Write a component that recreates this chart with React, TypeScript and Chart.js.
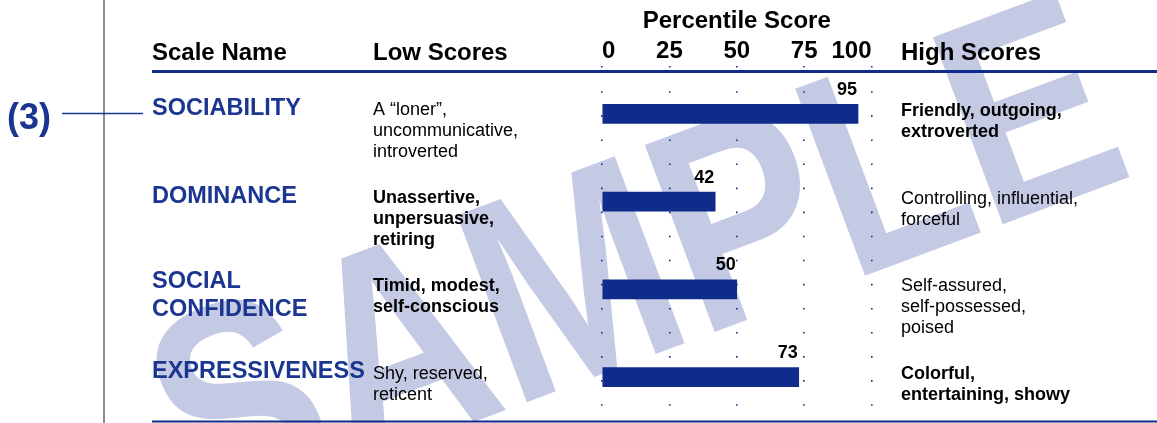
import React, { useEffect, useRef } from "react";
import { Chart, registerables } from "chart.js";

Chart.register(...registerables);

// ---------------- data ----------------
const CATEGORIES = ["SOCIABILITY", "DOMINANCE", "SOCIAL CONFIDENCE", "EXPRESSIVENESS"];
const SCALE_NAME_LINES = [["SOCIABILITY"], ["DOMINANCE"], ["SOCIAL", "CONFIDENCE"], ["EXPRESSIVENESS"]];
const SCORES = [95, 42, 50, 73];
const LOW_SCORES = [
  ["A \u201cloner\u201d,", "uncommunicative,", "introverted"],
  ["Unassertive,", "unpersuasive,", "retiring"],
  ["Timid, modest,", "self-conscious"],
  ["Shy, reserved,", "reticent"],
];
const LOW_BOLD = [false, true, true, false];
const HIGH_SCORES = [
  ["Friendly, outgoing,", "extroverted"],
  ["Controlling, influential,", "forceful"],
  ["Self-assured,", "self-possessed,", "poised"],
  ["Colorful,", "entertaining, showy"],
];
const HIGH_BOLD = [true, false, false, true];
const TICK_VALUES = [0, 25, 50, 75, 100];
const HEADER_SCALE = "Scale Name";
const HEADER_LOW = "Low Scores";
const HEADER_HIGH = "High Scores";
const AXIS_TITLE = "Percentile Score";
const MARKER = "(3)";
const WATERMARK = "SAMPLE";

// ---------------- style ----------------
const FONT = '"Liberation Sans", Arial, Helvetica, sans-serif';
const BLUE = "#102c8a";
const NAME_BLUE = "#1a3690";
const WM = "#c4c9e4";
const W = 1157;
const H = 423;

const overlay = {
  id: "overlay",
  beforeDraw(chart: any) {
    const ctx = chart.ctx;
    ctx.save();
    ctx.translate(632, 252);
    ctx.rotate((-20.5 * Math.PI) / 180);
    ctx.scale(0.83, 1);
    ctx.font = `bold 290px ${FONT}`;
    ctx.fillStyle = WM;
    ctx.textAlign = "center";
    ctx.textBaseline = "alphabetic";
    ctx.fillText(WATERMARK, 0, (0.716 * 290) / 2);
    ctx.restore();
  },
  afterDraw(chart: any) {
    const ctx = chart.ctx;
    const yScale = chart.scales.y;
    const meta = chart.getDatasetMeta(0);
    ctx.save();

    // vertical grey rule
    ctx.strokeStyle = "#8c8c8c";
    ctx.lineWidth = 2;
    ctx.beginPath();
    ctx.moveTo(104, 0);
    ctx.lineTo(104, H);
    ctx.stroke();

    // header rule & bottom rule
    ctx.strokeStyle = BLUE;
    ctx.lineWidth = 3;
    ctx.beginPath();
    ctx.moveTo(152, chart.chartArea.top + 1.5);
    ctx.lineTo(W, chart.chartArea.top + 1.5);
    ctx.stroke();
    ctx.lineWidth = 2;
    ctx.beginPath();
    ctx.moveTo(152, chart.chartArea.bottom + 0.5);
    ctx.lineTo(W, chart.chartArea.bottom + 0.5);
    ctx.stroke();

    // headers
    ctx.fillStyle = "#000";
    ctx.textBaseline = "alphabetic";
    ctx.textAlign = "left";
    ctx.font = `bold 24px ${FONT}`;
    ctx.fillText(HEADER_SCALE, 152, 60);
    ctx.fillText(HEADER_LOW, 373, 60);
    ctx.fillText(HEADER_HIGH, 901, 60);

    // marker (3)
    const cy0 = yScale.getPixelForValue(0);
    ctx.fillStyle = NAME_BLUE;
    ctx.font = `bold 36px ${FONT}`;
    ctx.fillText(MARKER, 7, cy0 + 15.5);
    ctx.strokeStyle = NAME_BLUE;
    ctx.lineWidth = 1.5;
    ctx.beginPath();
    ctx.moveTo(62, cy0 - 0.5);
    ctx.lineTo(143, cy0 - 0.5);
    ctx.stroke();

    CATEGORIES.forEach((_, i) => {
      const cy = yScale.getPixelForValue(i);
      // scale names
      ctx.fillStyle = NAME_BLUE;
      ctx.font = `bold 23.5px ${FONT}`;
      const names = SCALE_NAME_LINES[i];
      const nameStart = names.length > 1 ? cy - 1.5 : cy + 1;
      names.forEach((t, k) => ctx.fillText(t, 152, nameStart + k * 28));

      // low scores
      ctx.fillStyle = "#000";
      ctx.font = `${LOW_BOLD[i] ? "bold " : ""}18px ${FONT}`;
      LOW_SCORES[i].forEach((t, k) => ctx.fillText(t, 373, cy + 1.5 + k * 21));

      // high scores
      ctx.font = `${HIGH_BOLD[i] ? "bold " : ""}18px ${FONT}`;
      HIGH_SCORES[i].forEach((t, k) => ctx.fillText(t, 901, cy + 2 + k * 21));

      // value labels
      const bar = meta.data[i];
      ctx.font = `bold 18px ${FONT}`;
      ctx.textAlign = "right";
      ctx.fillText(String(SCORES[i]), bar.x - 1, bar.y - bar.height / 2 - 9.5);
      ctx.textAlign = "left";
    });

    ctx.restore();
  },
};

export default function App() {
  const ref = useRef<HTMLCanvasElement | null>(null);

  useEffect(() => {
    if (!ref.current) return;
    const chart = new Chart(ref.current, {
      type: "bar",
      data: {
        labels: CATEGORIES,
        datasets: [
          {
            data: SCORES,
            backgroundColor: BLUE,
            borderWidth: 0,
            barThickness: 19,
          },
        ],
      },
      options: {
        indexAxis: "y",
        animation: false,
        responsive: true,
        maintainAspectRatio: false,
        layout: { padding: { left: 602, right: W - 871.5, top: 0, bottom: 2 } },
        plugins: { legend: { display: false }, tooltip: { enabled: false } },
        scales: {
          x: {
            position: "top",
            min: 0,
            max: 100,
            afterBuildTicks: (scale: any) => {
              scale.ticks = TICK_VALUES.map((v) => ({ value: v }));
            },
            afterFit: (scale: any) => {
              scale.height = 70;
            },
            ticks: {
              align: "inner",
              padding: 0,
              color: "#000",
              font: { family: FONT, size: 24, weight: "bold" },
              maxRotation: 0,
              autoSkip: false,
            },
            grid: {
              color: BLUE,
              lineWidth: 1.6,
              drawTicks: true,
              tickLength: 4,
              tickColor: BLUE,
              tickWidth: 1.6,
              tickBorderDash: [1.6, 40],
            },
            border: { display: false, dash: [1.6, 22.47], dashOffset: 2.8 },
            title: {
              display: true,
              text: AXIS_TITLE,
              color: "#000",
              font: { family: FONT, size: 24, weight: "bold" },
              padding: { top: 7, bottom: 0 },
            },
          },
          y: { display: false },
        },
      },
      plugins: [overlay],
    });
    return () => chart.destroy();
  }, []);

  return (
    <div style={{ position: "absolute", left: 0, top: 0, width: W, height: H, background: "#fff" }}>
      <canvas ref={ref} />
    </div>
  );
}
